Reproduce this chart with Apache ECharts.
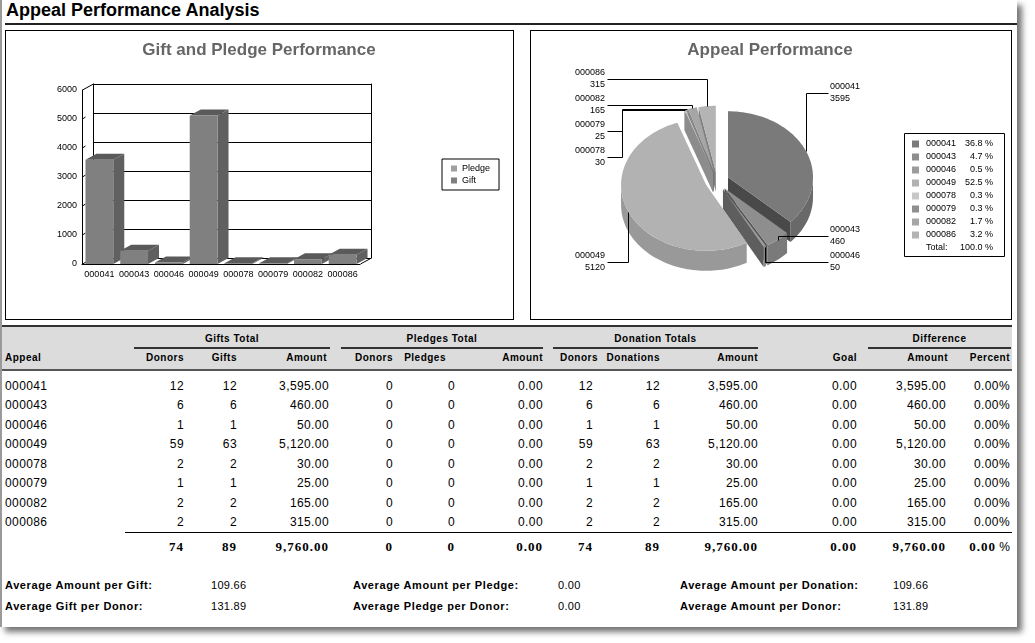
<!DOCTYPE html>
<html>
<head>
<meta charset="utf-8">
<title>Appeal Performance Analysis</title>
<script src="https://cdn.jsdelivr.net/npm/echarts@6.0.0/dist/echarts.min.js"></script>
<style>
  html, body { margin: 0; padding: 0; background: #fff; width: 1035px; height: 643px; overflow: hidden; }
  body { font-family: "Liberation Sans", Arial, sans-serif; color: #000; }
  #page { position: absolute; left: 0; top: 0; width: 1015px; height: 627px; background: #fff;
          border-left: 2px solid #9a9a9a; box-shadow: 5px 5px 6px rgba(0,0,0,0.55); }
  #title { position: absolute; left: 6px; top: 0; font: bold 18px "Liberation Sans", Arial, sans-serif; line-height: 21px; }
  .bar { position: absolute; }
  .panel { position: absolute; top: 30px; height: 288px; border: 1px solid #000; }
  #chart { position: absolute; left: 0; top: 0; width: 1017px; height: 322px; }
  .t { position: absolute; white-space: nowrap; line-height: 14px; height: 14px; }
  .hd { font-weight: bold; font-size: 10px; letter-spacing: 0.5px; }
  .cell { font-size: 12px; letter-spacing: 0.4px; }
  .tot { font: bold 13px "Liberation Serif", "Times New Roman", serif; letter-spacing: 1px; }
  .tot .pc { font: 12px "Liberation Sans", Arial, sans-serif; letter-spacing: 0; }
  .fl { font-weight: bold; font-size: 11px; letter-spacing: 0.6px; }
  .fv { font-size: 11px; letter-spacing: 0.3px; }
</style>
</head>
<body>
<div id="page"></div>
<div id="title">Appeal Performance Analysis</div>
<div class="bar" style="left:5px;top:23px;width:1012px;height:2px;background:#222"></div>
<div class="panel" style="left:5px;width:507px"></div>
<div class="panel" style="left:530px;width:480px"></div>
<div id="chart"></div>

<script>
// appeal codes and the per-appeal figures
const appeals = ['000041', '000043', '000046', '000049', '000078', '000079', '000082', '000086'];
const giftDonors = [12, 6, 1, 59, 2, 1, 2, 2];
const giftCounts = [12, 6, 1, 63, 2, 1, 2, 2];
const giftAmounts = [3595, 460, 50, 5120, 30, 25, 165, 315];
const pledgeDonors = [0, 0, 0, 0, 0, 0, 0, 0];
const pledgeCounts = [0, 0, 0, 0, 0, 0, 0, 0];
const pledgeAmounts = [0, 0, 0, 0, 0, 0, 0, 0];
const donationDonors = [12, 6, 1, 59, 2, 1, 2, 2];
const donationCounts = [12, 6, 1, 63, 2, 1, 2, 2];
const donationAmounts = [3595, 460, 50, 5120, 30, 25, 165, 315];
const goals = [0, 0, 0, 0, 0, 0, 0, 0];
const diffAmounts = [3595, 460, 50, 5120, 30, 25, 165, 315];
const diffPercents = [0, 0, 0, 0, 0, 0, 0, 0];
// distinct donors over all appeals (a donor can give to several appeals)
const uniqueGiftDonors = 74;
const uniquePledgeDonors = 0;
const uniqueDonationDonors = 74;
const yTicks = [0, 1000, 2000, 3000, 4000, 5000, 6000];

const FONT = '"Liberation Sans", Arial, sans-serif';
const pieColors = ['#7a7a7a', '#8e8e8e', '#9c9c9c', '#b2b2b2', '#c8c8c8', '#8f8f8f', '#a6a6a6', '#b4b4b4'];

// 3d box of the bar chart
const BAR = { left: 82, top: 90, width: 278, height: 174, dx: 11, dy: -6 };
// 3d pie
const PIE = { cx: 717, cy: 181, rx: 85, ry: 66, depth: 20, explode: 12,
              rightTop: -88, leftTop: -102, bottom: 81, gap: 26 };

function shade(hex, f) {
  const n = parseInt(hex.slice(1), 16);
  const r = Math.round(((n >> 16) & 255) * f), g = Math.round(((n >> 8) & 255) * f), b = Math.round((n & 255) * f);
  return 'rgb(' + r + ',' + g + ',' + b + ')';
}
const sum = arr => arr.reduce((a, b) => a + b, 0);

function renderBar(params, api) {
  const v = api.value(1);
  if (!v) return null;
  const base = api.coord([api.value(0), 0]);
  const top = api.coord([api.value(0), v]);
  const w = api.size([1, 0])[0] * 0.8;
  const x0 = base[0] - w / 2, x1 = base[0] + w / 2;
  const c = api.visual('color');
  return { type: 'group', children: [
    { type: 'polygon', shape: { points: [[x1, top[1]], [x1 + BAR.dx, top[1] + BAR.dy], [x1 + BAR.dx, base[1] + BAR.dy], [x1, base[1]]] },
      style: { fill: shade(c, 0.75) } },
    { type: 'polygon', shape: { points: [[x0, top[1]], [x0 + BAR.dx, top[1] + BAR.dy], [x1 + BAR.dx, top[1] + BAR.dy], [x1, top[1]]] },
      style: { fill: shade(c, 0.7) } },
    { type: 'rect', shape: { x: x0, y: top[1], width: w, height: base[1] - top[1] }, style: { fill: c } }
  ] };
}

// slice angles, explosion and label slots for the pie
function pieLayout() {
  const total = sum(donationAmounts);
  let acc = 0;
  const items = donationAmounts.map((v, i) => {
    const start = acc / total * Math.PI * 2;
    acc += v;
    const end = acc / total * Math.PI * 2;
    const mid = (start + end) / 2;
    const cx = PIE.cx + PIE.explode * Math.sin(mid);
    const cy = PIE.cy - PIE.explode * Math.cos(mid) * PIE.ry / PIE.rx;
    return { i, v, start, end, mid, cx, cy,
      attach: [cx + PIE.rx * Math.sin(mid), cy - PIE.ry * Math.cos(mid)],
      right: Math.sin(mid) > 0, upper: Math.cos(mid) > 0 };
  });
  const g = { ru: [], rl: [], lu: [], ll: [] };
  items.forEach(it => g[(it.right ? 'r' : 'l') + (it.upper ? 'u' : 'l')].push(it));
  g.ru.sort((a, b) => a.mid - b.mid).forEach((it, k) => it.ly = PIE.cy + PIE.rightTop + k * PIE.gap);
  g.lu.sort((a, b) => b.mid - a.mid).forEach((it, k) => it.ly = PIE.cy + PIE.leftTop + k * PIE.gap);
  g.rl.sort((a, b) => b.mid - a.mid).forEach((it, k) => it.ly = PIE.cy + PIE.bottom - k * PIE.gap);
  g.ll.sort((a, b) => a.mid - b.mid).forEach((it, k) => it.ly = PIE.cy + PIE.bottom - k * PIE.gap);
  return items;
}
const slices = pieLayout();

function renderPie(params, api) {
  const s = slices[params.dataIndex];
  const col = pieColors[s.i];
  const D = PIE.depth;
  const pt = (a, d) => [s.cx + PIE.rx * Math.sin(a), s.cy - PIE.ry * Math.cos(a) + d];
  const arc = (a0, a1, d) => {
    const n = Math.max(2, Math.ceil((a1 - a0) / (Math.PI / 90)));
    const out = [];
    for (let k = 0; k <= n; k++) out.push(pt(a0 + (a1 - a0) * k / n, d));
    return out;
  };
  const meanY = pts => pts.reduce((a, p) => a + p[1], 0) / pts.length;
  const kids = [];
  // front-facing rim
  const fs = Math.max(s.start, Math.PI / 2), fe = Math.min(s.end, Math.PI * 1.5);
  if (fe > fs) {
    const pts = arc(fs, fe, 0).concat(arc(fs, fe, D).reverse());
    kids.push({ type: 'polygon', z2: meanY(pts), shape: { points: pts }, style: { fill: shade(col, 0.86) } });
  }
  // cut faces
  const face = a => [[s.cx, s.cy], pt(a, 0), pt(a, D), [s.cx, s.cy + D]];
  if (Math.sin(s.end) > 1e-6) {
    const pts = face(s.end);
    kids.push({ type: 'polygon', z2: meanY(pts), shape: { points: pts }, style: { fill: shade(col, 0.6) } });
  }
  if (Math.sin(s.start) < -1e-6) {
    const pts = face(s.start);
    kids.push({ type: 'polygon', z2: meanY(pts), shape: { points: pts }, style: { fill: shade(col, 0.7) } });
  }
  // top
  kids.push({ type: 'polygon', z2: 1000, shape: { points: [[s.cx, s.cy]].concat(arc(s.start, s.end, 0)) }, style: { fill: col } });
  // leader line and label
  const ax = s.attach[0], ay = s.attach[1], ly = s.ly;
  const lx = s.right ? PIE.cx + 111 : PIE.cx - 110;
  let line;
  if (s.upper && ly > ay) {
    const ex = s.right ? PIE.cx + PIE.rx + 10 : PIE.cx - PIE.rx - 10;
    line = [[lx, ly], [ex, ly], [ex, ay], [ax, ay]];
  } else {
    line = [[lx, ly], [ax, ly], [ax, ay]];
  }
  kids.push({ type: 'polyline', z2: 2000, shape: { points: line.map(p => [Math.round(p[0]) + 0.5, Math.round(p[1]) + 0.5]) },
    style: { stroke: '#000', lineWidth: 1, fill: null } });
  const tx = s.right ? PIE.cx + 113 : PIE.cx - 112;
  const align = s.right ? 'left' : 'right';
  kids.push({ type: 'text', z2: 2001, x: tx, y: ly - 6, style: { text: appeals[s.i], fontSize: 9, fontFamily: FONT, fill: '#000', align, verticalAlign: 'middle' } });
  kids.push({ type: 'text', z2: 2001, x: tx, y: ly + 6, style: { text: String(s.v), fontSize: 9, fontFamily: FONT, fill: '#000', align, verticalAlign: 'middle' } });
  return { type: 'group', children: kids };
}

const chart = echarts.init(document.getElementById('chart'), null, { renderer: 'canvas' });
chart.setOption({
  animation: false,
  textStyle: { fontFamily: FONT },
  legend: {
    data: ['Pledge', 'Gift'], orient: 'vertical', left: 442, top: 159, icon: 'rect',
    itemWidth: 6, itemHeight: 6, itemGap: 3, padding: [5, 9, 5, 9],
    borderColor: '#000', borderWidth: 1, backgroundColor: '#fff',
    textStyle: { fontSize: 9, color: '#000', fontFamily: FONT }
  },
  grid: [
    { left: BAR.left, top: BAR.top, width: BAR.width, height: BAR.height },
    { left: BAR.left + BAR.dx, top: BAR.top + BAR.dy, width: BAR.width, height: BAR.height }
  ],
  xAxis: [
    { type: 'category', gridIndex: 0, data: appeals, axisLine: { lineStyle: { color: '#000', width: 1 } },
      axisTick: { show: false }, axisLabel: { fontSize: 9, color: '#000', margin: 6, interval: 0 } },
    { type: 'category', gridIndex: 1, data: appeals, show: false }
  ],
  yAxis: [
    { type: 'value', gridIndex: 0, min: 0, max: 6000, interval: 1000,
      axisLine: { show: true, lineStyle: { color: '#000' } }, axisTick: { show: false },
      axisLabel: { fontSize: 9, color: '#000', margin: 5, formatter: v => String(v) }, splitLine: { show: false } },
    { type: 'value', gridIndex: 1, min: 0, max: 6000, interval: 1000,
      axisLine: { show: true, lineStyle: { color: '#000' } }, axisTick: { show: false },
      axisLabel: { show: false }, splitLine: { show: true, lineStyle: { color: '#000', width: 1 } } },
    { type: 'value', gridIndex: 1, position: 'right', min: 0, max: 6000, interval: 1000,
      axisLine: { show: true, lineStyle: { color: '#000' } }, axisTick: { show: false },
      axisLabel: { show: false }, splitLine: { show: false } }
  ],
  series: [
    { name: 'Pledge', type: 'custom', xAxisIndex: 0, yAxisIndex: 0, itemStyle: { color: '#a0a0a0' },
      encode: { x: 0, y: 1 }, data: pledgeAmounts.map((v, i) => [i, v]), renderItem: renderBar, z: 3 },
    { name: 'Gift', type: 'custom', xAxisIndex: 0, yAxisIndex: 0, itemStyle: { color: '#808080' },
      encode: { x: 0, y: 1 }, data: giftAmounts.map((v, i) => [i, v]), renderItem: renderBar, z: 3 },
    { name: 'Appeal Performance', type: 'custom', coordinateSystem: 'none', silent: true,
      data: donationAmounts.map((v, i) => ({ name: appeals[i], value: v })), renderItem: renderPie }
  ]
});

// 3d frame pieces, titles and pie legend
const graphics = [];
const lineEl = (x1, y1, x2, y2) => ({ type: 'line', shape: { x1, y1, x2, y2 }, style: { stroke: '#000', lineWidth: 1 }, z: 1 });
const x0 = BAR.left + 0.5, x1 = BAR.left + BAR.width + 0.5;
const yTop = chart.convertToPixel({ yAxisIndex: 0 }, yTicks[yTicks.length - 1]);
const yBot = chart.convertToPixel({ yAxisIndex: 0 }, yTicks[0]);
graphics.push(lineEl(x0, yTop, x0 + BAR.dx, yTop + BAR.dy));
graphics.push(lineEl(x0, yBot, x0 + BAR.dx, yBot + BAR.dy));
graphics.push(lineEl(x1, yBot, x1 + BAR.dx, yBot + BAR.dy));
yTicks.slice(1, -1).forEach(v => {
  const y = chart.convertToPixel({ yAxisIndex: 0 }, v);
  graphics.push(lineEl(x0, y, x0 + 3, y - 2));
});
graphics.push({ type: 'text', x: 259, y: 50, style: { text: 'Gift and Pledge Performance', font: 'bold 17px ' + FONT, fill: '#666', align: 'center', verticalAlign: 'middle' } });
graphics.push({ type: 'text', x: 770, y: 50, style: { text: 'Appeal Performance', font: 'bold 17px ' + FONT, fill: '#666', align: 'center', verticalAlign: 'middle' } });

const LEG = { x: 904.5, y: 133.5, w: 100, h: 123, row0: 144, rowGap: 13, sqX: 912, nameX: 926, pctRight: 993 };
graphics.push({ type: 'rect', shape: { x: LEG.x, y: LEG.y, width: LEG.w, height: LEG.h }, style: { fill: '#fff', stroke: '#000', lineWidth: 1 } });
const pieTotal = sum(donationAmounts);
appeals.forEach((name, i) => {
  const y = LEG.row0 + i * LEG.rowGap;
  graphics.push({ type: 'rect', shape: { x: LEG.sqX, y: y - 3.5, width: 7, height: 7 }, style: { fill: pieColors[i] } });
  graphics.push({ type: 'text', x: LEG.nameX, y, style: { text: name, fontSize: 9, fontFamily: FONT, fill: '#000', verticalAlign: 'middle' } });
  graphics.push({ type: 'text', x: LEG.pctRight, y, style: { text: (donationAmounts[i] / pieTotal * 100).toFixed(1) + ' %', fontSize: 9, fontFamily: FONT, fill: '#000', align: 'right', verticalAlign: 'middle' } });
});
const totY = LEG.row0 + appeals.length * LEG.rowGap;
graphics.push({ type: 'text', x: LEG.nameX, y: totY, style: { text: 'Total:', fontSize: 9, fontFamily: FONT, fill: '#000', verticalAlign: 'middle' } });
graphics.push({ type: 'text', x: LEG.pctRight, y: totY, style: { text: (100).toFixed(1) + ' %', fontSize: 9, fontFamily: FONT, fill: '#000', align: 'right', verticalAlign: 'middle' } });
chart.setOption({ graphic: graphics });

// ---- table below the charts ----
function put(html, x, y, align, cls) {
  const d = document.createElement('div');
  d.className = 't ' + cls;
  d.innerHTML = html;
  const w = 300;
  d.style.width = w + 'px';
  d.style.textAlign = align;
  d.style.left = (align === 'right' ? x - w : align === 'center' ? x - w / 2 : x) + 'px';
  d.style.top = (y - 7) + 'px';
  document.body.appendChild(d);
}
function rule(x, y, w, h, color) {
  const d = document.createElement('div');
  d.className = 'bar';
  d.style.cssText = 'left:' + x + 'px;top:' + y + 'px;width:' + w + 'px;height:' + h + 'px;background:' + color;
  document.body.appendChild(d);
}
const int = v => String(v);
const money = v => v.toLocaleString('en-US', { minimumFractionDigits: 2, maximumFractionDigits: 2 });
const pct = v => v.toFixed(2) + '%';

const columns = [
  { values: giftDonors, right: 184, title: 'Donors', fmt: int, total: () => String(uniqueGiftDonors) },
  { values: giftCounts, right: 237, title: 'Gifts', fmt: int },
  { values: giftAmounts, right: 329, title: 'Amount', titleRight: 327, fmt: money },
  { values: pledgeDonors, right: 393, title: 'Donors', fmt: int, total: () => String(uniquePledgeDonors) },
  { values: pledgeCounts, right: 455, title: 'Pledges', titleRight: 446, fmt: int },
  { values: pledgeAmounts, right: 543, title: 'Amount', fmt: money },
  { values: donationDonors, right: 593, title: 'Donors', titleRight: 598, fmt: int, total: () => String(uniqueDonationDonors) },
  { values: donationCounts, right: 660, title: 'Donations', fmt: int },
  { values: donationAmounts, right: 758, title: 'Amount', fmt: money },
  { values: goals, right: 857, title: 'Goal', fmt: money },
  { values: diffAmounts, right: 946, title: 'Amount', titleRight: 948, fmt: money },
  { values: diffPercents, right: 1010, title: 'Percent', fmt: pct, total: v => v.toFixed(2) + '<span class="pc"> %</span>' }
];
const groups = [
  { title: 'Gifts Total', from: 134, to: 330 },
  { title: 'Pledges Total', from: 341, to: 543 },
  { title: 'Donation Totals', from: 553, to: 758 },
  { title: 'Difference', from: 868, to: 1011 }
];

rule(2, 325, 1010, 2, '#333');
rule(2, 327, 1010, 42, '#dcdcdc');
rule(2, 369, 1010, 2, '#555');
groups.forEach(g => {
  put(g.title, (g.from + g.to) / 2, 339, 'center', 'hd');
  rule(g.from, 347, g.to - g.from, 2, '#333');
});
put('Appeal', 5, 358, 'left', 'hd');
columns.forEach(c => put(c.title, c.titleRight || c.right, 358, 'right', 'hd'));

const rowY = i => 386 + i * 19.45;
appeals.forEach((a, i) => {
  put(a, 5, rowY(i), 'left', 'cell');
  columns.forEach(c => put(c.fmt(c.values[i]), c.right, rowY(i), 'right', 'cell'));
});
rule(125, 532, 887, 1, '#000');
columns.forEach(c => put((c.total || c.fmt)(sum(c.values)), c.right, 546, 'right', 'tot'));

// summary averages
const avg = (a, b) => (b ? a / b : 0);
const footer = [
  { x: 5, vx: 211, rows: [['Average Amount per Gift:', avg(sum(giftAmounts), sum(giftCounts))],
                          ['Average Gift per Donor:', avg(sum(giftAmounts), uniqueGiftDonors)]] },
  { x: 353, vx: 558, rows: [['Average Amount per Pledge:', avg(sum(pledgeAmounts), sum(pledgeCounts))],
                            ['Average Pledge per Donor:', avg(sum(pledgeAmounts), uniquePledgeDonors)]] },
  { x: 680, vx: 893, rows: [['Average Amount per Donation:', avg(sum(donationAmounts), sum(donationCounts))],
                            ['Average Amount per Donor:', avg(sum(donationAmounts), uniqueDonationDonors)]] }
];
footer.forEach(f => f.rows.forEach((r, k) => {
  const y = 585 + k * 21;
  put(r[0], f.x, y, 'left', 'fl');
  put(r[1].toFixed(2), f.vx, y, 'left', 'fv');
}));
</script>
</body>
</html>
